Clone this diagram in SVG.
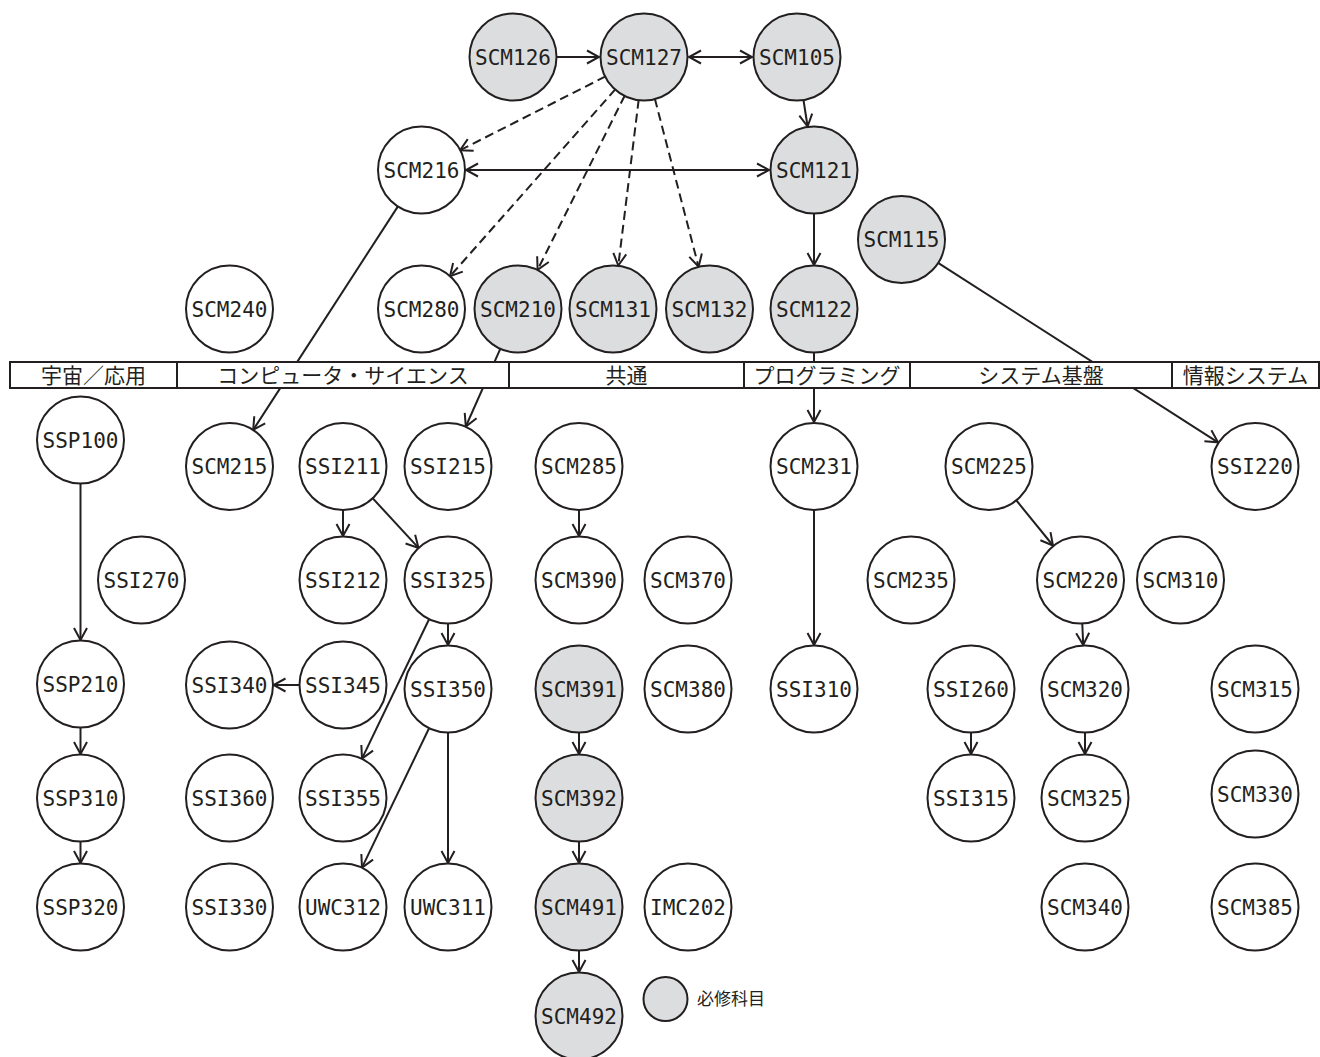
<svg xmlns="http://www.w3.org/2000/svg" width="1320" height="1057" viewBox="0 0 1320 1057">
<style>
.n circle{stroke:#231f20;stroke-width:2;fill:#fff}
.n.r circle{fill:#dcdddf}
.n text{font-family:"DejaVu Sans Mono","Liberation Mono",monospace;font-size:21px;fill:#231f20;text-anchor:middle}
.e{stroke:#231f20;stroke-width:2;fill:none;marker-end:url(#ah)}
.d{stroke-dasharray:9 5}
.b{marker-start:url(#ah)}
.bar rect{fill:#fff;stroke:#231f20;stroke-width:2}
.bar line{stroke:#231f20;stroke-width:2}
.bar text{font-family:"Noto Sans CJK JP","Noto Sans",sans-serif;font-size:21px;fill:#231f20;text-anchor:middle}
.lg{font-family:"Noto Sans CJK JP","Noto Sans",sans-serif;font-size:17px;fill:#231f20}
</style>
<defs>
<marker id="ah" markerUnits="userSpaceOnUse" markerWidth="16" markerHeight="16" viewBox="-14 -8 16 16" refX="0" refY="0" orient="auto-start-reverse">
<path d="M-12,-6.5 L0,0 L-12,6.5" fill="none" stroke="#231f20" stroke-width="2"/>
</marker>
</defs>
<rect width="1320" height="1057" fill="#fff"/>
<g id="connectors">
<line class="e" x1="557" y1="57" x2="599" y2="57"/>
<line class="e b" x1="689" y1="57" x2="752" y2="57"/>
<line class="e" x1="803.4" y1="99.5" x2="807.6" y2="126.5"/>
<line class="e b" x1="466" y1="170" x2="769" y2="170"/>
<line class="e" x1="814" y1="214" x2="814" y2="265"/>
<line class="e d" x1="605.6" y1="76.4" x2="460" y2="150.3"/>
<line class="e d" x1="615.5" y1="89.2" x2="450" y2="276.3"/>
<line class="e d" x1="624.8" y1="95.5" x2="537.6" y2="269.8"/>
<line class="e d" x1="638.7" y1="99.7" x2="618.3" y2="265.5"/>
<line class="e d" x1="654.8" y1="98.6" x2="698.6" y2="266.8"/>
<line class="e" x1="398.1" y1="206.1" x2="253.2" y2="429.9"/>
<line class="e" x1="500.5" y1="348.3" x2="465.8" y2="426.5"/>
<line class="e" x1="814" y1="353" x2="814" y2="422"/>
<line class="e" x1="937.7" y1="262.7" x2="1218" y2="442.3"/>
<line class="e" x1="80.5" y1="484" x2="80.5" y2="640"/>
<line class="e" x1="343" y1="510" x2="343" y2="536"/>
<line class="e" x1="372.1" y1="497.6" x2="418.5" y2="547.9"/>
<line class="e" x1="448" y1="624" x2="448" y2="645"/>
<line class="e" x1="429.3" y1="618.7" x2="362" y2="758.6"/>
<line class="e" x1="299.5" y1="685" x2="273.5" y2="685"/>
<line class="e" x1="429.3" y1="727.7" x2="362" y2="867.6"/>
<line class="e" x1="448" y1="733" x2="448" y2="863"/>
<line class="e" x1="579" y1="510" x2="579" y2="536"/>
<line class="e" x1="579" y1="733" x2="579" y2="754"/>
<line class="e" x1="579" y1="842" x2="579" y2="863"/>
<line class="e" x1="579" y1="951" x2="579" y2="972"/>
<line class="e" x1="814" y1="510" x2="814" y2="645"/>
<line class="e" x1="1016" y1="500" x2="1053" y2="545.5"/>
<line class="e" x1="1082.3" y1="624" x2="1083.2" y2="645"/>
<line class="e" x1="971" y1="733" x2="971" y2="754"/>
<line class="e" x1="1085" y1="733" x2="1085" y2="754"/>
<line class="e" x1="80.5" y1="728" x2="80.5" y2="754"/>
<line class="e" x1="80.5" y1="842" x2="80.5" y2="863"/>
</g>
<g id="categories" class="bar">
<rect x="10" y="362" width="1309" height="26"/>
<line x1="177" y1="362" x2="177" y2="388"/>
<line x1="509" y1="362" x2="509" y2="388"/>
<line x1="744" y1="362" x2="744" y2="388"/>
<line x1="910" y1="362" x2="910" y2="388"/>
<line x1="1172" y1="362" x2="1172" y2="388"/>
<text x="93.5" y="383">宇宙／応用</text>
<text x="343" y="383">コンピュータ・サイエンス</text>
<text x="626.5" y="383">共通</text>
<text x="827" y="383">プログラミング</text>
<text x="1041" y="383">システム基盤</text>
<text x="1245.5" y="383">情報システム</text>
</g>
<g id="SCM126" class="n r"><circle cx="513" cy="57" r="43.5"/><text x="513" y="64.5">SCM126</text></g>
<g id="SCM127" class="n r"><circle cx="644" cy="57" r="43.5"/><text x="644" y="64.5">SCM127</text></g>
<g id="SCM105" class="n r"><circle cx="797" cy="57" r="43.5"/><text x="797" y="64.5">SCM105</text></g>
<g id="SCM216" class="n"><circle cx="421.5" cy="170" r="43.5"/><text x="421.5" y="177.5">SCM216</text></g>
<g id="SCM121" class="n r"><circle cx="814" cy="170" r="43.5"/><text x="814" y="177.5">SCM121</text></g>
<g id="SCM115" class="n r"><circle cx="901.5" cy="239.5" r="43.5"/><text x="901.5" y="247">SCM115</text></g>
<g id="SCM240" class="n"><circle cx="229.5" cy="309" r="43.5"/><text x="229.5" y="316.5">SCM240</text></g>
<g id="SCM280" class="n"><circle cx="421.5" cy="309" r="43.5"/><text x="421.5" y="316.5">SCM280</text></g>
<g id="SCM210" class="n r"><circle cx="518" cy="309" r="43.5"/><text x="518" y="316.5">SCM210</text></g>
<g id="SCM131" class="n r"><circle cx="613" cy="309" r="43.5"/><text x="613" y="316.5">SCM131</text></g>
<g id="SCM132" class="n r"><circle cx="709.5" cy="309" r="43.5"/><text x="709.5" y="316.5">SCM132</text></g>
<g id="SCM122" class="n r"><circle cx="814" cy="309" r="43.5"/><text x="814" y="316.5">SCM122</text></g>
<g id="SSP100" class="n"><circle cx="80.5" cy="440" r="43.5"/><text x="80.5" y="447.5">SSP100</text></g>
<g id="SCM215" class="n"><circle cx="229.5" cy="466.5" r="43.5"/><text x="229.5" y="474">SCM215</text></g>
<g id="SSI211" class="n"><circle cx="343" cy="466.5" r="43.5"/><text x="343" y="474">SSI211</text></g>
<g id="SSI215" class="n"><circle cx="448" cy="466.5" r="43.5"/><text x="448" y="474">SSI215</text></g>
<g id="SCM285" class="n"><circle cx="579" cy="466.5" r="43.5"/><text x="579" y="474">SCM285</text></g>
<g id="SCM231" class="n"><circle cx="814" cy="466.5" r="43.5"/><text x="814" y="474">SCM231</text></g>
<g id="SCM225" class="n"><circle cx="989" cy="466.5" r="43.5"/><text x="989" y="474">SCM225</text></g>
<g id="SSI220" class="n"><circle cx="1255" cy="466.5" r="43.5"/><text x="1255" y="474">SSI220</text></g>
<g id="SSI270" class="n"><circle cx="141.5" cy="580" r="43.5"/><text x="141.5" y="587.5">SSI270</text></g>
<g id="SSI212" class="n"><circle cx="343" cy="580" r="43.5"/><text x="343" y="587.5">SSI212</text></g>
<g id="SSI325" class="n"><circle cx="448" cy="580" r="43.5"/><text x="448" y="587.5">SSI325</text></g>
<g id="SCM390" class="n"><circle cx="579" cy="580" r="43.5"/><text x="579" y="587.5">SCM390</text></g>
<g id="SCM370" class="n"><circle cx="688" cy="580" r="43.5"/><text x="688" y="587.5">SCM370</text></g>
<g id="SCM235" class="n"><circle cx="911" cy="580" r="43.5"/><text x="911" y="587.5">SCM235</text></g>
<g id="SCM220" class="n"><circle cx="1080.5" cy="580" r="43.5"/><text x="1080.5" y="587.5">SCM220</text></g>
<g id="SCM310" class="n"><circle cx="1180.5" cy="580" r="43.5"/><text x="1180.5" y="587.5">SCM310</text></g>
<g id="SSP210" class="n"><circle cx="80.5" cy="684" r="43.5"/><text x="80.5" y="691.5">SSP210</text></g>
<g id="SSI340" class="n"><circle cx="229.5" cy="685" r="43.5"/><text x="229.5" y="692.5">SSI340</text></g>
<g id="SSI345" class="n"><circle cx="343" cy="685" r="43.5"/><text x="343" y="692.5">SSI345</text></g>
<g id="SSI350" class="n"><circle cx="448" cy="689" r="43.5"/><text x="448" y="696.5">SSI350</text></g>
<g id="SCM391" class="n r"><circle cx="579" cy="689" r="43.5"/><text x="579" y="696.5">SCM391</text></g>
<g id="SCM380" class="n"><circle cx="688" cy="689" r="43.5"/><text x="688" y="696.5">SCM380</text></g>
<g id="SSI310" class="n"><circle cx="814" cy="689" r="43.5"/><text x="814" y="696.5">SSI310</text></g>
<g id="SSI260" class="n"><circle cx="971" cy="689" r="43.5"/><text x="971" y="696.5">SSI260</text></g>
<g id="SCM320" class="n"><circle cx="1085" cy="689" r="43.5"/><text x="1085" y="696.5">SCM320</text></g>
<g id="SCM315" class="n"><circle cx="1255" cy="689" r="43.5"/><text x="1255" y="696.5">SCM315</text></g>
<g id="SSP310" class="n"><circle cx="80.5" cy="798" r="43.5"/><text x="80.5" y="805.5">SSP310</text></g>
<g id="SSI360" class="n"><circle cx="229.5" cy="798" r="43.5"/><text x="229.5" y="805.5">SSI360</text></g>
<g id="SSI355" class="n"><circle cx="343" cy="798" r="43.5"/><text x="343" y="805.5">SSI355</text></g>
<g id="SCM392" class="n r"><circle cx="579" cy="798" r="43.5"/><text x="579" y="805.5">SCM392</text></g>
<g id="SSI315" class="n"><circle cx="971" cy="798" r="43.5"/><text x="971" y="805.5">SSI315</text></g>
<g id="SCM325" class="n"><circle cx="1085" cy="798" r="43.5"/><text x="1085" y="805.5">SCM325</text></g>
<g id="SCM330" class="n"><circle cx="1255" cy="794" r="43.5"/><text x="1255" y="801.5">SCM330</text></g>
<g id="SSP320" class="n"><circle cx="80.5" cy="907" r="43.5"/><text x="80.5" y="914.5">SSP320</text></g>
<g id="SSI330" class="n"><circle cx="229.5" cy="907" r="43.5"/><text x="229.5" y="914.5">SSI330</text></g>
<g id="UWC312" class="n"><circle cx="343" cy="907" r="43.5"/><text x="343" y="914.5">UWC312</text></g>
<g id="UWC311" class="n"><circle cx="448" cy="907" r="43.5"/><text x="448" y="914.5">UWC311</text></g>
<g id="SCM491" class="n r"><circle cx="579" cy="907" r="43.5"/><text x="579" y="914.5">SCM491</text></g>
<g id="IMC202" class="n"><circle cx="688" cy="907" r="43.5"/><text x="688" y="914.5">IMC202</text></g>
<g id="SCM340" class="n"><circle cx="1085" cy="907" r="43.5"/><text x="1085" y="914.5">SCM340</text></g>
<g id="SCM385" class="n"><circle cx="1255" cy="907" r="43.5"/><text x="1255" y="914.5">SCM385</text></g>
<g id="SCM492" class="n r"><circle cx="579" cy="1016" r="43.5"/><text x="579" y="1023.5">SCM492</text></g>
<g id="legend" class="n r"><circle cx="665.5" cy="999" r="22"/><text class="lg" x="697" y="1005" style="text-anchor:start;font-family:'Noto Sans CJK JP','Noto Sans',sans-serif;font-size:17px">必修科目</text></g>
</svg>
